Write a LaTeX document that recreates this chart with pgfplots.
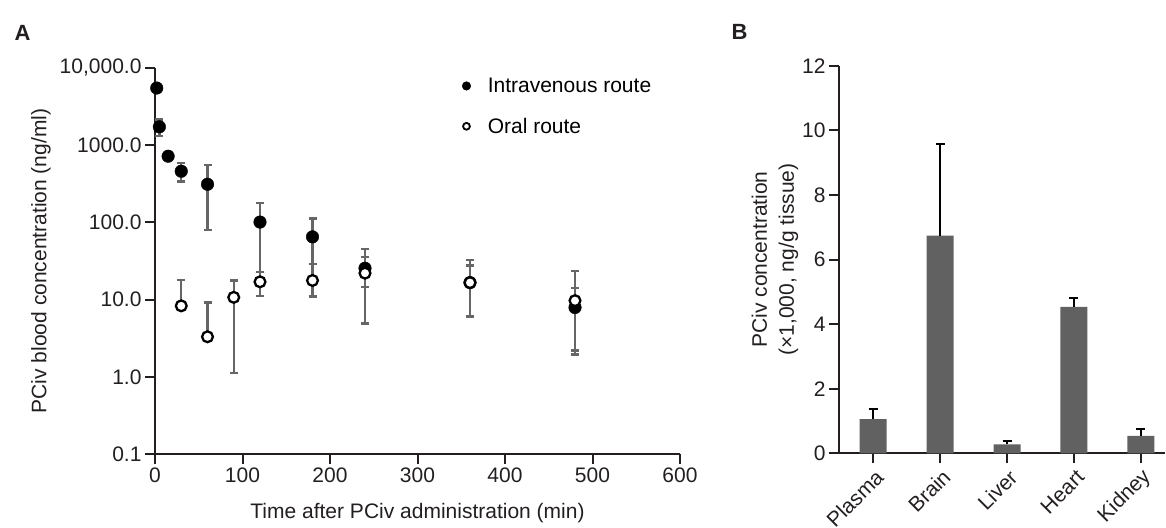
\documentclass[border=0pt]{standalone}
\usepackage{pgfplots}
\pgfplotsset{compat=1.18}
\usepackage{pgfplotstable}
\usepackage{fontspec}
\setmainfont{Liberation Sans}
\definecolor{axcol}{HTML}{231F20}
\definecolor{errgray}{HTML}{666666}
\definecolor{bargray}{HTML}{616161}

\pgfplotstableread{
t y ep em
2 5500 250 250
5 1730 430 420
15 720 60 60
30 460 124 120
60 312 238 232
120 101 79 78
180 65 47 36
240 25.5 20 11
360 16.6 11 10.5
480 7.9 6.1 5.95
}\iv
\pgfplotstableread{
t y ep em
30 8.3 9.6 0
60 3.3 5.9 0
90 10.7 7 9.57
120 17 6 5.8
180 17.7 11.3 6.7
240 22 13.4 17.1
360 16.6 15.8 10.7
480 9.7 13.9 7.5
}\oral
\pgfplotstableread{
x y e
0 1.06 0.31
1 6.74 2.84
2 0.28 0.09
3 4.53 0.29
4 0.54 0.22
}\tissue

\pgfplotsset{
  mystyle/.style={
    scale only axis,
    axis lines=left,
    axis line style={-, line width=2pt, draw=axcol},
    tick align=outside,
    major tick length=10pt,
    tick style={line width=2pt, draw=axcol},
    font=\fontsize{21}{25}\selectfont,
    tick label style={font=\fontsize{21}{25}\selectfont, text=axcol},
    label style={font=\fontsize{21}{25}\selectfont, text=axcol},
    /pgf/number format/assume math mode=true,
  },
  errA/.style={error bars/.cd, y dir=both, y explicit,
    error bar style={draw=errgray, line width=2.3pt},
    error mark options={rotate=90, mark size=4pt, line width=2.3pt, draw=errgray}},
}

\begin{document}
\begin{tikzpicture}
\useasboundingbox (0,0) rectangle (1166pt,-527pt);

\begin{axis}[mystyle,
  at={(155pt,-454pt)}, anchor=south west,
  width=525pt, height=386pt,
  xmin=0, xmax=600, ymode=log, ymin=0.1, ymax=10000,
  xtick={0,100,...,600},
  ytick={0.1,1,10,100,1000,10000},
  yticklabels={0.1,1.0,10.0,100.0,1000.0,{10,000.0}},
  yminorticks=false,
  xlabel={Time after PCiv administration (min)},
  xlabel style={yshift=-14pt},
  ylabel={PCiv blood concentration (ng/ml)},
  ylabel shift=2pt,
  clip=false,
  legend style={at={(rel axis cs:0.579,0.985)}, anchor=north west, draw=none, fill=none,
    font=\fontsize{21}{25}\selectfont, row sep=20pt},
  legend cell align=left,
]
\addlegendimage{only marks, mark=*, mark size=4.3pt, mark options={fill=black, draw=black}}
\addlegendentry{\hspace{15pt}Intravenous route}
\addlegendimage{only marks, mark=*, mark size=3.4pt, mark options={fill=white, draw=black, line width=1.8pt}}
\addlegendentry{\hspace{15pt}Oral route}

\addplot[only marks, mark=none, forget plot, errA] table[x=t, y=y, y error plus=ep, y error minus=em]{\iv};
\addplot[only marks, mark=none, forget plot, errA] table[x=t, y=y, y error plus=ep, y error minus=em]{\oral};
\addplot[only marks, mark=*, mark size=6.3pt, mark options={fill=black, draw=black}, forget plot] table[x=t, y=y]{\iv};
\addplot[only marks, mark=*, mark size=5.4pt, mark options={fill=white, draw=black, line width=2.3pt}, forget plot] table[x=t, y=y]{\oral};
\end{axis}

\begin{axis}[mystyle,
  at={(839pt,-453.3pt)}, anchor=south west,
  width=326pt, height=387.6pt,
  xmin=-0.51, xmax=4.36, ymin=0, ymax=12,
  ytick={0,2,...,12},
  xtick={0,1,2,3,4},
  xticklabels={Plasma,Brain,Liver,Heart,Kidney},
  xticklabel style={xshift=9pt, yshift=-8pt, rotate=45, anchor=east},
  ylabel={PCiv concentration\\(×1,000, ng/g tissue)},
  ylabel style={align=center, font=\fontsize{21}{27}\selectfont},
  ylabel shift=-3pt,
  clip=false,
]
\addplot[ybar, bar width=27pt, fill=bargray, draw=none,
  error bars/.cd, y dir=plus, y explicit,
  error bar style={draw=black, line width=2pt},
  error mark options={rotate=90, mark size=4.5pt, line width=2pt, draw=black}]
  table[x=x, y=y, y error=e]{\tissue};
\end{axis}

\node[font=\bfseries\fontsize{22}{26}\selectfont, anchor=base west, text=axcol] at (11pt,-41pt) {A};
\node[font=\bfseries\fontsize{22}{26}\selectfont, anchor=base west, text=axcol] at (728pt,-40pt) {B};
\end{tikzpicture}
\end{document}
